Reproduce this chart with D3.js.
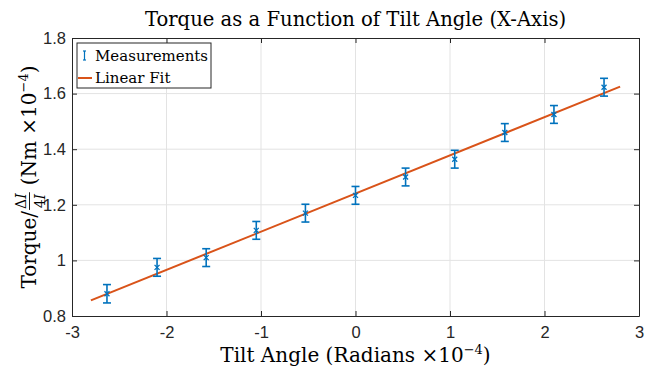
<!DOCTYPE html>
<html>
<head>
<meta charset="utf-8">
<script src="https://cdn.jsdelivr.net/npm/d3@7/dist/d3.min.js"></script>
<style>
  body { margin: 0; background: #fff; }
  svg { font-family: "DejaVu Serif", "Liberation Serif", serif; }
  .grid line { stroke: #e3e3e3; stroke-width: 1; }
  .axis path, .axis line { stroke: #262626; }
  .axis text { fill: #262626; font-size: 16.5px; }
</style>
</head>
<body>
<div id="chart"></div>
<script>
// data
const tiltAngle = [-2.63, -2.10, -1.58, -1.05, -0.53, 0, 0.53, 1.05, 1.58, 2.10, 2.63];
const torque = [0.880, 0.975, 1.010, 1.108, 1.170, 1.234, 1.300, 1.364, 1.460, 1.525, 1.623];
const torqueErr = [0.033, 0.032, 0.032, 0.032, 0.032, 0.032, 0.032, 0.032, 0.032, 0.032, 0.032];
const fitX = [-2.8, 2.8];
const fitY = [0.856, 1.625];
const xTicks = [-3, -2, -1, 0, 1, 2, 3];
const yTicks = [0.8, 1, 1.2, 1.4, 1.6, 1.8];

const W = 654, H = 371;
const margin = {top: 38, right: 15, bottom: 55, left: 72};
const width = W - margin.left - margin.right;
const height = H - margin.top - margin.bottom;
const blue = "#0072BD", orange = "#D95319";

let svg = d3.select("#chart").append("svg")
    .attr("width", W)
    .attr("height", H);

let x = d3.scaleLinear().domain([-3, 3]).range([0, width]);
let y = d3.scaleLinear().domain([0.8, 1.8]).range([height, 0]);

let g = svg.append("g")
    .attr("transform", `translate(${margin.left},${margin.top})`);

// grid
let grid = g.append("g").attr("class", "grid");
grid.selectAll("line.gx").data(xTicks.slice(1, -1)).enter().append("line")
    .attr("class", "gx")
    .attr("x1", d => x(d)).attr("x2", d => x(d))
    .attr("y1", 0).attr("y2", height);
grid.selectAll("line.gy").data(yTicks.slice(1, -1)).enter().append("line")
    .attr("class", "gy")
    .attr("x1", 0).attr("x2", width)
    .attr("y1", d => y(d)).attr("y2", d => y(d));

// axes (ticks point inward, mirrored on top/right)
const fmtX = d => d < 0 ? "-" + Math.abs(d) : String(d);
g.append("g").attr("class", "axis")
    .attr("transform", `translate(0,${height})`)
    .call(d3.axisBottom(x).tickValues(xTicks).tickSizeInner(-5).tickSizeOuter(0).tickPadding(10).tickFormat(fmtX));
g.append("g").attr("class", "axis")
    .call(d3.axisTop(x).tickValues(xTicks).tickSizeInner(-5).tickSizeOuter(0).tickFormat(""));
g.append("g").attr("class", "axis")
    .call(d3.axisLeft(y).tickValues(yTicks).tickSizeInner(-5).tickSizeOuter(0).tickPadding(6).tickFormat(d3.format("~g")));
g.append("g").attr("class", "axis")
    .attr("transform", `translate(${width},0)`)
    .call(d3.axisRight(y).tickValues(yTicks).tickSizeInner(-5).tickSizeOuter(0).tickFormat(""));

// fit line
g.append("path")
    .datum(d3.zip(fitX, fitY))
    .attr("fill", "none")
    .attr("stroke", orange)
    .attr("stroke-width", 2)
    .attr("d", d3.line().x(d => x(d[0])).y(d => y(d[1])));

// error bars
const pts = tiltAngle.map((t, i) => ({t: t, v: torque[i], e: torqueErr[i]}));
let eb = g.append("g").selectAll("g").data(pts).enter().append("g")
    .attr("stroke", blue).attr("stroke-width", 1.6).attr("fill", "none");
eb.append("line")
    .attr("x1", d => x(d.t)).attr("x2", d => x(d.t))
    .attr("y1", d => y(d.v - d.e)).attr("y2", d => y(d.v + d.e));
eb.append("line")
    .attr("x1", d => x(d.t) - 4).attr("x2", d => x(d.t) + 4)
    .attr("y1", d => y(d.v - d.e)).attr("y2", d => y(d.v - d.e));
eb.append("line")
    .attr("x1", d => x(d.t) - 4).attr("x2", d => x(d.t) + 4)
    .attr("y1", d => y(d.v + d.e)).attr("y2", d => y(d.v + d.e));
eb.append("path")
    .attr("stroke-width", 1.3)
    .attr("d", d => {
        let cx = x(d.t), cy = y(d.v), s = 2.5;
        return `M${cx - s},${cy - s}L${cx + s},${cy + s}M${cx - s},${cy + s}L${cx + s},${cy - s}`;
    });

// legend
let lg = g.append("g").attr("transform", "translate(5,5)");
lg.append("rect")
    .attr("width", 134).attr("height", 45)
    .attr("fill", "#fff").attr("stroke", "#262626").attr("stroke-width", 1);
let li = lg.append("g").attr("stroke", blue).attr("stroke-width", 1.2);
li.append("line").attr("x1", 7.5).attr("x2", 7.5).attr("y1", 8).attr("y2", 17);
li.append("line").attr("x1", 6).attr("x2", 9).attr("y1", 8).attr("y2", 8);
li.append("line").attr("x1", 6).attr("x2", 9).attr("y1", 17).attr("y2", 17);
lg.append("line").attr("x1", 1).attr("x2", 15).attr("y1", 35).attr("y2", 35)
    .attr("stroke", orange).attr("stroke-width", 2);
lg.append("text").attr("x", 18).attr("y", 18).attr("font-size", 15).attr("fill", "#000").text("Measurements");
lg.append("text").attr("x", 18).attr("y", 40).attr("font-size", 15).attr("fill", "#000").text("Linear Fit");

// title
svg.append("text")
    .attr("x", margin.left + width / 2).attr("y", 26)
    .attr("text-anchor", "middle").attr("font-size", 19.6).attr("fill", "#000")
    .text("Torque as a Function of Tilt Angle (X-Axis)");

// x label
let xl = svg.append("text")
    .attr("x", margin.left + width / 2).attr("y", 362)
    .attr("text-anchor", "middle").attr("font-size", 20).attr("fill", "#000");
xl.append("tspan").text("Tilt Angle (Radians ×10");
xl.append("tspan").attr("dy", -8).attr("font-size", 13).text("−4");
xl.append("tspan").attr("dy", 8).text(")");

// y label with fraction
let yl = svg.append("g");
let t1 = yl.append("text").attr("font-size", 20).attr("fill", "#000").text("Torque/");
let w1 = t1.node().getComputedTextLength();
let num = yl.append("text").attr("font-size", 14).attr("text-anchor", "middle").attr("y", -10);
num.append("tspan").text("Δ");
num.append("tspan").attr("font-style", "italic").text("I");
let den = yl.append("text").attr("font-size", 14).attr("text-anchor", "middle").attr("y", 9);
den.append("tspan").text("4");
den.append("tspan").attr("font-style", "italic").text("I");
let fw = Math.max(num.node().getComputedTextLength(), den.node().getComputedTextLength()) + 2;
num.attr("x", w1 + 1 + fw / 2);
den.attr("x", w1 + 1 + fw / 2);
yl.append("line").attr("x1", w1 + 1).attr("x2", w1 + 1 + fw).attr("y1", -6.5).attr("y2", -6.5)
    .attr("stroke", "#000").attr("stroke-width", 0.9);
let t2 = yl.append("text").attr("font-size", 20).attr("fill", "#000").attr("x", w1 + fw + 8);
t2.append("tspan").text("(Nm ×10");
t2.append("tspan").attr("dy", -8).attr("font-size", 13).text("−4");
t2.append("tspan").attr("dy", 8).text(")");
let total = w1 + fw + 8 + t2.node().getComputedTextLength();
yl.attr("transform", `translate(36,${margin.top + height / 2}) rotate(-90) translate(${-total / 2},0)`);
</script>
</body>
</html>
